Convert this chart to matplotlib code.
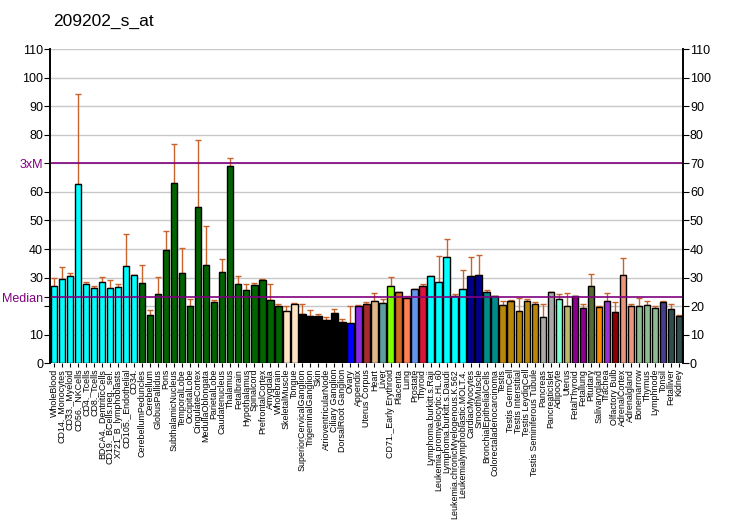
import matplotlib
matplotlib.use("Agg")
import matplotlib.pyplot as plt
import numpy as np

plt.rcParams['font.family'] = ['Liberation Sans', 'DejaVu Sans']

# tissue labels, as printed under the bars
labels = [
    "WholeBlood", "CD14._Monocytes", "CD33._Myeloid", "CD56._NKCells", "CD4._Tcells",
    "CD8._Tcells", "BDCA4._DentriticCells", "CD19._BCells.neg._sel.", "X721_B_lymphoblasts",
    "CD105._Endothelial", "CD34.", "CerebellumPeduncles", "Cerebellum", "GlobusPallidus",
    "Pons", "SubthalamicNucleus", "TemporalLobe", "OccipitalLobe", "CingulateCortex",
    "MedullaOblongata", "ParietalLobe", "Caudatenucleus", "Thalamus", "Fetalbrain",
    "Hypothalamus", "Spinalcord", "PrefrontalCortex", "Amygdala", "Wholebrain",
    "SkeletalMuscle", "Tongue", "SuperiorCervicalGanglion", "TrigeminalGanglion", "Skin",
    "AtrioventricularNode", "Ciliary Ganglion", "DorsalRoot Ganglion", "Ovary", "Appendix",
    "Uterus Corpus", "Heart", "Liver", "CD71._Early Erythroid", "Placenta", "Lung",
    "Prostate", "Thyroid", "Lymphoma.burkitt.s.Raji", "Leukemia.promyelocytic.HL.60",
    "Lymphoma.burkitt.s.Daudi", "Leukemia.chronicMyelogenous.K.562",
    "Leukemialymphoblastic.MOLT.4.", "CardiacMyocytes", "SmoothMuscle",
    "BronchialEpithelialCells", "Colorectaladenocarcinoma", "Testis", "Testis GermCell",
    "Testis Interstitial", "Testis LeydigCell", "Testis Seminiferous Tubule", "Pancreas",
    "PancreaticIslet", "Adipocyte", "Uterus", "FetalThyroid", "Fetallung", "Pituitary",
    "Salivarygland", "Trachea", "Olfactory Bulb", "AdrenalCortex", "Adrenalgland",
    "Bonemarrow", "Thymus", "Lymphnode", "Tonsil", "Fetalliver", "Kidney",
]

values = [
    27.2, 29.6, 30.4, 62.8, 27.8, 26.2, 28.5, 26.2, 26.8, 33.9, 30.8,
    28.2, 17.0, 24.1, 39.6, 63.1, 31.5, 20.2, 54.6, 34.5, 21.5, 32.0, 69.1,
    27.8, 25.5, 27.5, 29.2, 22.3, 20.2,
    18.4, 20.9, 17.4, 16.7, 16.7, 15.3, 17.7, 14.6, 14.2, 20.2, 20.9, 21.8,
    21.2, 26.9, 25.0, 23.0, 26.1, 27.2, 30.4, 28.5, 37.3, 23.6, 26.1, 30.4,
    31.0, 25.0, 23.4, 20.5, 21.8, 18.4, 21.8, 20.9, 16.2, 24.8, 22.5, 20.2,
    23.6, 19.4, 27.2, 19.8, 21.8, 18.0, 31.0, 20.2, 20.2, 20.5, 19.4, 21.5,
    19.0, 16.7,
]

# top of each error whisker
err_top = [
    29.9, 33.8, 31.7, 94.4, 28.5, 27.1, 30.3, 29.2, 27.8, 45.1, 30.8,
    34.5, 18.7, 30.3, 46.2, 76.8, 40.5, 22.5, 78.2, 48.2, 22.2, 36.6, 71.8,
    30.6, 27.8, 28.2, 29.6, 27.8, 20.9,
    20.2, 21.1, 20.9, 18.7, 17.4, 16.2, 19.0, 15.5, 20.2, 20.4, 21.5, 24.6,
    22.5, 30.3, 25.0, 23.6, 26.1, 27.8, 30.6, 37.7, 43.4, 24.3, 32.7, 37.1,
    38.0, 25.7, 23.6, 21.8, 22.2, 23.0, 22.5, 21.5, 20.8, 25.0, 24.3, 24.6,
    23.6, 20.8, 31.3, 20.1, 24.6, 21.5, 37.0, 20.8, 22.8, 21.7, 20.1, 21.8,
    20.8, 16.9,
]

colors = (
    ["#00FFFF"] * 11 + ["#006400"] * 18 + ["#FFE4C4"] * 2 + ["#000000"] * 6 +
    ["#0000FF", "#8A2BE2", "#A52A2A", "#DEB887", "#5F9EA0", "#7FFF00", "#D2691E",
     "#FF7F50", "#6495ED", "#DC143C"] +
    ["#00FFFF"] * 5 + ["#00008B"] * 2 + ["#008B8B"] * 2 + ["#B8860B"] * 5 +
    ["#A9A9A9"] * 2 +
    ["#7FFFD4", "#BDB76B", "#8B008B", "#8B008B", "#556B2F", "#FF8C00", "#9932CC",
     "#8B0000", "#E9967A", "#E9967A", "#8FBC8F", "#8FBC8F", "#8FBC8F", "#483D8B",
     "#2F4F4F", "#2F4F4F"]
)

median = 23.1
three_m = 70

x = np.arange(len(values))
vals = np.array(values)
err = np.array(err_top) - vals

fig = plt.figure(figsize=(7.32, 5.30), dpi=100)
ax = fig.add_axes([0.0683, 0.3145, 0.8647, 0.593])

for y in range(10, 111, 10):
    ax.axhline(y, color="#C8C8C8", lw=1, zorder=0)

ax.bar(x, vals, width=0.8, color=colors, edgecolor="black", linewidth=1, zorder=2)
ax.errorbar(x, vals, yerr=[np.zeros_like(err), err], fmt="none", ecolor="#C8642B",
            elinewidth=1, capsize=2.2, capthick=1, zorder=1)

ax.axhline(three_m, color="#800080", lw=1.2, zorder=3)
ax.axhline(median, color="#800080", lw=1.2, zorder=3)

ax.set_xlim(-0.5, len(values) - 0.5)
ax.set_ylim(0, 110)

yt = [0, 10, 20, 30, 40, 50, 60, 70, 80, 90, 100, 110]
ax.set_yticks(yt + [median])
ylab = [str(v) for v in yt] + ["Median"]
ylab[2] = ""
ylab[7] = "3xM"
ax.set_yticklabels(ylab, fontsize=9)
for t in ax.get_yticklabels():
    if t.get_text() in ("3xM", "Median"):
        t.set_color("#800080")

ax.set_xticks(x)
ax.set_xticklabels(labels, rotation=90, fontsize=6.4)
ax.tick_params(axis="x", length=3, pad=1)
ax.tick_params(axis="y", length=4, pad=1)

ax2 = ax.twinx()
ax2.set_ylim(0, 110)
ax2.set_yticks(yt)
ax2.set_yticklabels([str(v) for v in yt], fontsize=9)
ax2.tick_params(axis="y", length=4, pad=1)

for a in (ax, ax2):
    a.spines["top"].set_visible(False)
    a.spines["left"].set_linewidth(1.2)
    a.spines["right"].set_linewidth(1.2)
    a.spines["bottom"].set_visible(False)

fig.text(0.072, 0.96, "209202_s_at", fontsize=12.5, ha="left", va="center")

fig.savefig("out.png", dpi=100)
